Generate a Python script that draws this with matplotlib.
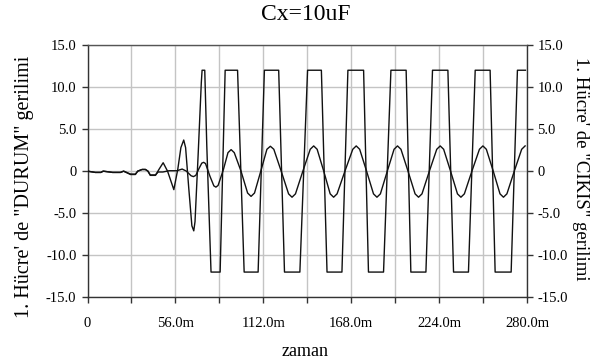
import matplotlib
matplotlib.use("Agg")
import matplotlib.pyplot as plt

# ---- data (time in ms, voltage in V) ----
title_text = "Cx=10uF"
x_label = "zaman"
left_label = "1. Hücre' de \"DURUM\" gerilimi"
right_label = "1. Hücre' de \"CIKIS\" gerilimi"

x_ticks = [0, 28, 56, 84, 112, 140, 168, 196, 224, 252, 280]
x_tick_labels = ["0", "", "56.0m", "", "112.0m", "", "168.0m", "", "224.0m", "", "280.0m"]
y_ticks = [-15, -10, -5, 0, 5, 10, 15]
y_tick_labels = ["-15.0", "-10.0", "-5.0", "0", "5.0", "10.0", "15.0"]

# saturated (square-like) waveform
cikis_t = [0, 5, 8.5, 10, 16, 21, 23, 27.4, 30.5, 32, 34.8, 36.9, 38.5, 40, 43.3,
           45.5, 48.2, 51, 55, 57.5, 59.5, 61.3, 62.5, 64.5, 66.5, 67.7, 68.5,
           70.5, 72.5, 73, 74.7, 76, 78.7, 84.5, 87.7, 95.6, 99.8, 108.7, 112.7,
           121.8, 125.5, 135.3, 140.2, 149, 152.6, 162.1, 165.9, 175.9, 179,
           188.6, 193.3, 203, 206, 215.6, 219.8, 229.6, 233.2, 242.7, 247, 256.5,
           259.7, 269.9, 273.9, 279]
cikis_v = [0, -0.15, -0.15, 0, -0.15, -0.15, 0, -0.4, -0.4, 0, 0.2, 0.2, 0, -0.5, -0.5,
           0.2, 1.0, 0, -2.2, 0.2, 2.8, 3.7, 2.8, -2.0, -6.5, -7.1, -6.0,
           2.0, 10.5, 12, 12, 3, -12, -12, 12, 12, -12, -12, 12,
           12, -12, -12, 12, 12, -12, -12, 12, 12, -12,
           -12, 12, 12, -12, -12, 12, 12, -12, -12, 12, 12,
           -12, -12, 12, 12]

# small-amplitude (triangle/sine-like) waveform
durum_t = [0, 5, 8.5, 10, 16, 21, 23, 27.4, 30.5, 32, 34.8, 36.9, 38.5, 40, 43.3,
           45, 48, 52, 57, 60.3, 63, 66, 67.5, 69, 71, 72.8, 74, 75.2, 78, 80.5,
           81.8, 83.2, 86.6, 89.5, 91.5, 93.5, 97.8, 102, 104.2, 106.4, 110.4,
           114.3, 116.5, 118.7, 123.4, 128.1, 130.3, 132.5, 137.2, 141.9, 144.1,
           146.3, 150.5, 154.6, 156.8, 159, 164, 169, 171.2, 173.4, 177.8, 182.2,
           184.4, 186.6, 191, 195.3, 197.5, 199.7, 204.2, 208.7, 210.9, 213.1,
           217.8, 222.5, 224.7, 226.9, 231.3, 235.7, 237.9, 240.1, 244.9, 249.7,
           251.9, 254.1, 258.5, 262.8, 265, 267.2, 271.9, 276.6, 278.8]
durum_v = [0, -0.15, -0.15, 0, -0.15, -0.15, 0, -0.35, -0.35, 0, 0.2, 0.2, 0, -0.45, -0.45,
           -0.1, -0.1, 0.05, 0.05, 0.25, 0, -0.55, -0.65, -0.5, 0.3, 0.95, 1.05, 0.9, -0.6, -1.75,
           -1.9, -1.7, 0.2, 2.2, 2.56, 2.2, 0, -2.6, -3.0, -2.6, 0,
           2.6, 2.96, 2.6, 0, -2.7, -3.1, -2.7, 0, 2.6, 3.0,
           2.6, 0, -2.7, -3.1, -2.7, 0, 2.6, 3.0, 2.6, 0, -2.7,
           -3.1, -2.7, 0, 2.6, 3.0, 2.6, 0, -2.7, -3.1, -2.7,
           0, 2.6, 3.0, 2.6, 0, -2.7, -3.1, -2.7, 0, 2.6,
           3.0, 2.6, 0, -2.7, -3.1, -2.7, 0, 2.6, 3.0]

# ---- figure ----
W, H = 603, 363
plt.rcParams['font.family'] = ['Liberation Serif', 'DejaVu Serif']
fig = plt.figure(figsize=(W / 100, H / 100), dpi=100)
fig.patch.set_facecolor('white')

L, R, T, B = 87.5, 527, 45, 297.3
ax = fig.add_axes([L / W, 1 - B / H, (R - L) / W, (B - T) / H])

line_col = '#111111'
ax.plot(cikis_t, cikis_v, color=line_col, lw=1.0, zorder=3)
ax.plot(durum_t, durum_v, color=line_col, lw=1.0, zorder=3)

ax.set_xlim(0, 280)
ax.set_ylim(-15, 15)
ax.set_xticks(x_ticks)
ax.set_xticklabels(x_tick_labels)
ax.set_yticks(y_ticks)
ax.set_yticklabels(y_tick_labels)
ax.grid(True, color='#c4c4c4', lw=1.0, zorder=0)
ax.set_axisbelow(True)

spine_col = '#333333'
for s in ax.spines.values():
    s.set_color(spine_col)
    s.set_linewidth(1.0)
ax.spines['top'].set_color('#555555')

ax.tick_params(axis='x', direction='out', length=4.5, width=1.0, color=spine_col,
               labelsize=10.5, pad=9.5)
ax.tick_params(axis='y', direction='out', length=4, width=1.0, color=spine_col,
               labelsize=10.5, pad=4)

ax2 = ax.twinx()
ax2.set_ylim(-15, 15)
ax2.set_yticks(y_ticks)
ax2.set_yticklabels(y_tick_labels)
ax2.tick_params(axis='y', direction='out', length=4, width=1.0, color=spine_col,
                labelsize=10.5, pad=3.5)
for s in ax2.spines.values():
    s.set_visible(False)

fig.text(306 / W, 1 - 14 / H, title_text, ha='center', va='center', fontsize=17)
fig.text(305.5 / W, 1 - 352 / H, x_label, ha='center', va='center', fontsize=13)
fig.text(25 / W, 1 - 186.5 / H, left_label, ha='center', va='center',
         rotation=90, fontsize=14.5)
fig.text(581 / W, 1 - 169 / H, right_label, ha='center', va='center',
         rotation=270, fontsize=13.5)

fig.savefig('out.png', dpi=100, facecolor='white')
